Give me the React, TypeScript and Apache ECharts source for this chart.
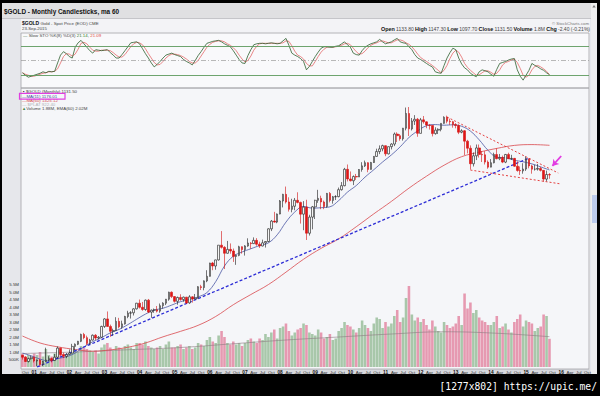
import React, { useEffect, useRef } from 'react';
import * as echarts from 'echarts';

// Monthly candles: [open, high, low, close, volume (millions)]
const gold2000 = [[277,278,268,273,0.9],[273,275,263,264,0.7],[264,272,262,270,0.8],[270,276,268,273,0.6]];
const gold2001 = [[273,274,262,265,0.9],[265,268,255,267,0.8],[267,269,256,258,1.0],[258,265,255,264,0.7],[264,294,263,267,1.2],[267,275,265,270,0.8],[270,272,262,266,0.7],[266,280,265,273,0.9],[273,297,270,293,1.1],[293,294,276,279,0.9],[279,283,271,275,0.7],[275,282,271,279,0.8]];
const gold2002 = [[279,290,278,282,0.9],[282,303,281,297,1.2],[297,304,288,302,1.1],[302,310,300,309,1.0],[309,328,307,326,1.4],[326,330,314,318,1.3],[318,323,300,304,1.2],[304,315,301,312,1.1],[312,326,311,324,1.0],[324,327,312,317,1.1],[317,322,314,319,0.9],[319,349,317,347,1.3]];
const gold2003 = [[347,370,343,368,1.5],[368,390,346,347,1.6],[347,352,320,334,1.3],[334,341,323,336,1.1],[336,373,335,361,1.4],[361,371,342,346,1.3],[346,363,341,354,1.2],[354,377,352,375,1.4],[375,392,370,385,1.5],[385,391,369,386,1.3],[386,400,378,398,1.2],[398,417,396,416,1.6]];
const gold2004 = [[416,428,399,403,1.6],[403,420,392,396,1.5],[396,428,392,426,1.7],[426,430,385,388,1.4],[388,396,371,394,1.3],[394,399,386,395,1.2],[395,407,387,391,1.3],[391,415,386,408,1.4],[408,419,399,416,1.2],[416,430,410,429,1.5],[429,455,424,453,1.7],[453,456,433,438,1.3]];
const gold2005 = [[438,439,418,422,1.3],[422,438,411,435,1.4],[435,446,424,428,1.5],[428,438,421,436,1.2],[436,437,414,417,1.3],[417,443,414,437,1.4],[437,439,418,430,1.2],[430,447,428,433,1.3],[433,475,431,473,1.6],[473,480,461,470,1.5],[470,497,460,495,1.4],[495,538,490,513,1.8]];
const gold2006 = [[513,570,512,569,2.0],[569,574,538,556,1.7],[556,584,540,583,1.6],[583,654,580,654,2.1],[654,730,637,643,2.4],[643,649,543,614,2.0],[614,676,612,633,1.6],[633,663,612,625,1.5],[625,637,574,599,1.7],[599,608,561,604,1.5],[604,651,600,646,1.6],[646,648,612,632,1.4]];
const gold2007 = [[632,654,603,650,1.6],[650,690,646,665,1.8],[665,670,636,662,1.9],[662,695,660,679,1.7],[679,691,651,659,1.6],[659,672,640,650,1.9],[650,683,648,666,1.8],[666,675,642,673,2.2],[673,746,669,743,2.0],[743,796,730,789,2.3],[789,848,779,783,2.5],[783,837,776,834,1.9]];
const gold2008 = [[834,930,832,923,2.6],[923,976,878,972,2.7],[972,1033,905,916,2.9],[916,950,850,865,2.4],[865,939,845,886,2.1],[886,945,859,928,2.3],[928,988,906,913,2.5],[913,918,774,833,2.6],[833,922,735,880,2.9],[880,932,681,718,2.8],[718,829,705,814,2.3],[814,888,740,882,2.2]];
const gold2009 = [[882,932,802,928,2.1],[928,1007,910,942,2.5],[942,962,866,916,2.3],[916,926,866,884,1.9],[884,983,877,979,2.0],[979,990,913,927,2.2],[927,960,904,954,1.8],[954,966,930,955,1.9],[955,1025,950,1008,2.4],[1008,1070,1001,1040,2.6],[1040,1195,1035,1182,3.0],[1182,1227,1075,1096,2.8]];
const gold2010 = [[1096,1162,1075,1081,2.7],[1081,1127,1045,1117,2.5],[1117,1140,1088,1113,2.3],[1113,1184,1113,1180,2.6],[1180,1249,1160,1214,3.1],[1214,1265,1203,1244,2.8],[1244,1249,1155,1181,2.6],[1181,1252,1179,1246,2.4],[1246,1310,1242,1307,2.9],[1307,1388,1303,1357,3.3],[1357,1424,1330,1386,3.2],[1386,1432,1360,1421,2.6]];
const gold2011 = [[1421,1424,1309,1333,3.0],[1333,1412,1327,1410,2.7],[1410,1448,1380,1439,2.9],[1439,1575,1416,1556,3.4],[1556,1577,1462,1536,3.8],[1536,1556,1477,1500,3.0],[1500,1632,1478,1628,3.3],[1628,1913,1601,1826,4.6],[1826,1921,1532,1620,5.4],[1620,1763,1600,1722,3.5],[1722,1803,1670,1746,3.1],[1746,1764,1523,1564,3.3]];
const gold2012 = [[1564,1764,1563,1738,3.0],[1738,1791,1687,1711,3.2],[1711,1718,1628,1669,2.8],[1669,1677,1611,1664,2.5],[1664,1668,1527,1561,3.1],[1561,1640,1548,1604,2.7],[1604,1627,1556,1614,2.4],[1614,1692,1589,1691,2.3],[1691,1787,1686,1773,3.0],[1773,1796,1692,1719,2.8],[1719,1754,1672,1713,2.6],[1713,1723,1635,1675,2.7]];
const gold2013 = [[1675,1694,1627,1663,2.9],[1663,1678,1555,1578,3.4],[1578,1616,1565,1596,2.8],[1596,1604,1321,1472,4.9],[1472,1487,1338,1393,3.9],[1393,1424,1180,1234,4.3],[1234,1348,1208,1313,3.6],[1313,1434,1270,1396,3.8],[1396,1434,1295,1327,3.3],[1327,1362,1251,1323,3.1],[1323,1361,1227,1250,3.0],[1250,1267,1187,1202,2.8]];
const gold2014 = [[1202,1280,1200,1244,2.8],[1244,1345,1238,1326,3.0],[1326,1392,1277,1284,3.4],[1284,1332,1269,1296,2.6],[1296,1315,1240,1250,2.7],[1250,1332,1240,1327,2.9],[1327,1345,1281,1283,2.5],[1283,1323,1273,1287,2.3],[1287,1291,1205,1211,3.0],[1211,1256,1160,1171,3.2],[1171,1208,1131,1167,3.5],[1167,1239,1142,1184,2.7]];
const gold2015 = [[1184,1307,1167,1283,3.1],[1283,1284,1191,1213,3.0],[1213,1224,1142,1183,2.9],[1183,1225,1170,1183,2.4],[1183,1232,1170,1190,2.6],[1190,1206,1162,1172,2.7],[1172,1175,1072,1095,3.5],[1095,1170,1077,1135,3.4],[1133.8,1147.3,1097.7,1131.5,1.88]];

// Slow stochastic [%K, %D] per month
const sto2000 = [[25,25],[20,22],[16,20],[18,18]];
const sto2001 = [[20,18],[22,20],[24,22],[27,24],[25,25],[28,27],[27,27],[28,28],[45,33],[61,45],[68,58],[64,64]];
const sto2002 = [[58,63],[55,59],[77,63],[86,73],[91,85],[84,87],[77,84],[70,77],[65,71],[72,69],[71,69],[70,71]];
const sto2003 = [[71,71],[72,71],[66,70],[61,66],[55,61],[55,57],[62,57],[70,62],[78,70],[86,78],[87,84],[88,87]];
const sto2004 = [[84,86],[74,82],[64,74],[55,64],[45,55],[37,46],[42,41],[48,42],[55,48],[61,55],[63,60],[65,63]];
const sto2005 = [[62,63],[60,62],[58,60],[52,57],[48,53],[45,48],[41,45],[50,45],[60,50],[68,59],[77,68],[85,77]];
const sto2006 = [[87,83],[89,87],[90,89],[91,90],[88,90],[84,88],[81,84],[78,81],[70,76],[61,70],[52,61],[45,53]];
const sto2007 = [[44,47],[60,50],[72,59],[82,71],[84,79],[85,84],[85,85],[84,85],[85,85],[86,85],[85,85],[84,85]];
const sto2008 = [[85,85],[90,86],[95,90],[81,89],[65,80],[61,69],[58,61],[54,58],[48,53],[31,44],[38,39],[48,39]];
const sto2009 = [[58,48],[67,58],[75,67],[78,73],[78,77],[77,78],[77,77],[79,78],[80,79],[84,81],[88,84],[82,85]];
const sto2010 = [[77,82],[65,75],[62,68],[61,63],[70,64],[77,69],[81,76],[84,81],[86,84],[88,86],[93,89],[88,90]];
const sto2011 = [[84,88],[86,86],[88,86],[92,89],[95,92],[88,92],[86,90],[85,86],[78,83],[72,78],[62,71],[55,63]];
const sto2012 = [[52,56],[48,52],[44,48],[40,44],[37,40],[27,35],[25,30],[24,25],[40,30],[55,40],[66,54],[75,65]];
const sto2013 = [[72,71],[55,67],[43,57],[35,44],[31,36],[24,30],[20,25],[17,20],[27,21],[31,25],[29,29],[27,29]];
const sto2014 = [[22,26],[18,22],[32,24],[44,31],[46,41],[48,46],[51,48],[53,51],[54,53],[31,46],[18,34],[10,20]];
const sto2015 = [[20,16],[30,20],[44,31],[40,38],[37,40],[33,37],[30,33],[25,28],[21.14,21.09]];

// Moving averages read at sample months (connected by the line series)
const ma11Points: [string, number][] = [
  ['2000-09',282],['2000-12',276],['2001-03',269],['2001-06',265],['2001-09',270],['2001-12',274],
  ['2002-03',282],['2002-06',296],['2002-09',308],['2002-12',318],['2003-03',330],['2003-06',339],
  ['2003-09',352],['2003-12',367],['2004-03',382],['2004-06',394],['2004-09',400],['2004-12',410],
  ['2005-03',421],['2005-06',428],['2005-09',437],['2005-12',452],['2006-03',492],['2006-06',556],
  ['2006-09',600],['2006-12',620],['2007-03',636],['2007-06',652],['2007-09',666],['2007-12',709],
  ['2008-03',783],['2008-06',847],['2008-09',885],['2008-12',873],['2009-03',876],['2009-06',882],
  ['2009-09',926],['2009-12',989],['2010-03',1041],['2010-06',1112],['2010-09',1178],['2010-12',1251],
  ['2011-03',1322],['2011-06',1408],['2011-09',1514],['2011-12',1595],['2012-03',1660],['2012-06',1675],
  ['2012-09',1667],['2012-12',1672],['2013-03',1653],['2013-06',1592],['2013-09',1487],['2013-12',1371],
  ['2014-03',1299],['2014-06',1293],['2014-09',1269],['2014-12',1253],['2015-03',1233],['2015-06',1204],
  ['2015-09',1176]
];
const ma60Points: [string, number][] = [
  ['2000-09',322],['2001-03',305],['2001-09',296],['2002-03',290],['2002-09',286],['2003-03',289],
  ['2003-09',295],['2004-03',305],['2004-09',320],['2005-03',334],['2005-09',350],['2006-03',375],
  ['2006-09',411],['2007-03',445],['2007-09',481],['2008-03',530],['2008-09',586],['2009-03',638],
  ['2009-09',687],['2010-03',755],['2010-09',835],['2011-03',920],['2011-09',1020],['2012-03',1120],
  ['2012-09',1220],['2013-03',1304],['2013-09',1351],['2014-03',1391],['2014-09',1424],['2015-03',1433],
  ['2015-09',1425]
];
const volEmaPoints: [string, number][] = [
  ['2000-09',0.9],['2002-03',1.0],['2003-09',1.15],['2005-03',1.3],['2006-09',1.55],['2008-03',1.8],
  ['2009-09',2.0],['2011-03',2.2],['2012-09',2.35],['2014-03',2.25],['2015-09',2.02]
];

// Annotation trend lines: [month, price]
const supportLine: [string, number][] = [['2001-02', 253], ['2015-02', 1290]];
const upperWedge: [string, number][] = [['2012-10', 1777], ['2015-12', 1148]];
const lowerWedge: [string, number][] = [['2013-06', 1175], ['2016-01', 1054]];
const arrowLine: [string, number][] = [['2016-01', 1311], ['2015-10', 1213]];

const volTicks = ['500K','1.0M','1.5M','2.0M','2.5M','3.0M','3.5M','4.0M','4.5M','5.0M','5.5M'];
const monthNames: Record<string, string> = { '04': 'Apr', '07': 'Jul', '10': 'Oct' };

const months: string[] = [];
for (let k = 0; k < 194; k++) {
  const t = 2000 * 12 + 8 + k;
  const y = Math.floor(t / 12);
  const m = (t % 12) + 1;
  months.push(`${y}-${m < 10 ? '0' : ''}${m}`);
}

const FONT = 'Liberation Sans, Arial, sans-serif';

function buildOption() {
  const gold = [...gold2000, ...gold2001, ...gold2002, ...gold2003, ...gold2004, ...gold2005, ...gold2006, ...gold2007,
    ...gold2008, ...gold2009, ...gold2010, ...gold2011, ...gold2012, ...gold2013, ...gold2014, ...gold2015];
  const sto = [...sto2000, ...sto2001, ...sto2002, ...sto2003, ...sto2004, ...sto2005, ...sto2006, ...sto2007,
    ...sto2008, ...sto2009, ...sto2010, ...sto2011, ...sto2012, ...sto2013, ...sto2014, ...sto2015];
  const candles = gold.map(([o, h, l, c]) => [o, c, l, h]);
  const volumes = gold.map(([o, , , c, v]) => ({
    value: v * 1e6,
    itemStyle: { color: c >= o ? 'rgba(112,166,112,0.58)' : 'rgba(220,92,128,0.6)' },
  }));
  const idx = (m: string) => months.indexOf(m);
  const pt = (p: [string, number]) => [idx(p[0]), p[1]];
  const seg = (a: [string, number][], style: any) => [
    { coord: pt(a[0]), lineStyle: style, symbol: 'none' },
    { coord: pt(a[1]), symbol: 'none' },
  ];

  const t = (x: number, y: number, text: string, extra: any = {}) => ({
    type: 'text', x, y, z: 10,
    style: { text, fontFamily: FONT, fontSize: 4.6, fill: '#333', verticalAlign: 'middle', align: 'left', ...extra },
  });
  const rs = (size: number, fill: string, weight = 'normal') => ({ fontFamily: FONT, fontSize: size, fill, fontWeight: weight });

  const hiddenAxis = { axisLine: { show: false }, axisTick: { show: false }, splitLine: { show: false }, axisLabel: { show: false } };

  return {
    animation: false,
    backgroundColor: '#000000',
    textStyle: { fontFamily: FONT },
    grid: [
      { left: 21, top: 33, width: 568, height: 55, show: true, borderColor: '#a3a3a8', borderWidth: 0.8, backgroundColor: 'transparent' },
      { left: 21, top: 88, width: 568, height: 281, show: true, borderColor: '#a3a3a8', borderWidth: 0.8, backgroundColor: 'transparent' },
      { left: 21, top: 284.5, width: 568, height: 82.5, show: false },
    ],
    xAxis: [0, 1, 2].map((g) => ({
      type: 'category', gridIndex: g, data: months, boundaryGap: true,
      ...hiddenAxis,
      axisLabel: g === 2 ? {
        show: true, margin: 3.2, fontSize: 4.4, color: '#222', fontFamily: FONT,
        interval: (_i: number, v: string) => ['01', '04', '07', '10'].includes(v.slice(5)),
        formatter: (v: string) => v.slice(5) === '01' ? `{y|${v.slice(2, 4)}}` : `{m|${monthNames[v.slice(5)]}}`,
        rich: {
          y: { fontSize: 4.8, fontWeight: 'bold', color: '#111', fontFamily: FONT },
          m: { fontSize: 4.4, color: '#333', fontFamily: FONT },
        },
      } : { show: false },
    })),
    yAxis: [
      { type: 'value', gridIndex: 0, min: -6, max: 106, ...hiddenAxis },
      { type: 'log', gridIndex: 1, min: 249, max: 2228, logBase: 10, ...hiddenAxis },
      {
        type: 'value', gridIndex: 2, min: 0, max: 5.5e6, interval: 5e5, position: 'left',
        axisLine: { show: false }, axisTick: { show: false }, splitLine: { show: false },
        axisLabel: {
          show: true, margin: 2, fontSize: 4.4, color: '#333', fontFamily: FONT,
          formatter: (v: number) => (v <= 0 ? '' : volTicks[Math.round(v / 5e5) - 1] || ''),
        },
      },
    ],
    series: [
      {
        type: 'line', xAxisIndex: 0, yAxisIndex: 0, data: sto.map((s) => s[0]), symbol: 'none', z: 4,
        lineStyle: { color: '#2f5f2f', width: 0.8 },
        markLine: {
          silent: true, symbol: ['none', 'none'], label: { show: false },
          data: [
            { yAxis: 80, lineStyle: { color: '#5d9a5d', width: 0.9, type: 'solid' } },
            { yAxis: 20, lineStyle: { color: '#5d9a5d', width: 0.9, type: 'solid' } },
            { yAxis: 50, lineStyle: { color: '#8c8c8c', width: 0.6, type: [5, 2, 1, 2] } },
          ],
        },
      },
      {
        type: 'line', xAxisIndex: 0, yAxisIndex: 0, data: sto.map((s) => s[1]), symbol: 'none', z: 3,
        lineStyle: { color: '#e56a6a', width: 0.8 },
      },
      { type: 'bar', xAxisIndex: 2, yAxisIndex: 2, data: volumes, barWidth: '88%', z: 1 },
      {
        type: 'line', xAxisIndex: 2, yAxisIndex: 2, data: volEmaPoints.map(([m, v]) => [idx(m), v * 1e6]),
        symbol: 'none', smooth: 0.4, connectNulls: true, z: 2, lineStyle: { color: '#8d7a82', width: 0.6 },
      },
      {
        type: 'line', xAxisIndex: 1, yAxisIndex: 1, data: ma60Points.map(pt), symbol: 'none', smooth: 0.4, z: 3,
        lineStyle: { color: '#d9474c', width: 0.8 },
      },
      {
        type: 'line', xAxisIndex: 1, yAxisIndex: 1, data: ma11Points.map(pt), symbol: 'none', smooth: 0.4, z: 4,
        lineStyle: { color: '#4a57a3', width: 0.8 },
      },
      {
        type: 'candlestick', xAxisIndex: 1, yAxisIndex: 1, data: candles, barWidth: '72%', z: 5,
        itemStyle: { color: '#f4f4f4', color0: '#e01515', borderColor: '#1c1c1c', borderColor0: '#d41010', borderWidth: 0.6 },
        markLine: {
          silent: true, symbol: ['none', 'none'], label: { show: false }, animation: false,
          data: [
            seg(supportLine, { color: '#2c2cd6', width: 1.3, type: [3, 2] }),
            seg(upperWedge, { color: '#e22b2b', width: 0.9, type: [2, 2] }),
            seg(lowerWedge, { color: '#e22b2b', width: 0.9, type: [2, 2] }),
            [
              { coord: pt(arrowLine[0]), symbol: 'none', lineStyle: { color: '#e23de2', width: 1.8, type: 'solid' } },
              { coord: pt(arrowLine[1]), symbol: 'arrow', symbolSize: 6 },
            ],
          ],
        },
      },
    ],
    graphic: [
      { type: 'rect', z: -5, shape: { x: 2, y: 3, width: 589, height: 371 }, style: { fill: '#e6e7eb' } },
      { type: 'rect', z: -4, shape: { x: 2, y: 3, width: 589, height: 15 }, style: { fill: '#e0e0e2' } },
      { type: 'line', z: -4, shape: { x1: 2, y1: 18.5, x2: 591, y2: 18.5 }, style: { stroke: '#bcbcc0', lineWidth: 0.8 } },
      { type: 'rect', z: -4, shape: { x: 21, y: 19, width: 569, height: 350 }, style: { fill: '#f3f3f6' } },
      { type: 'rect', z: -3, shape: { x: 21, y: 33, width: 568, height: 55 }, style: { fill: '#f9f9fb' } },
      { type: 'rect', z: -3, shape: { x: 21, y: 88, width: 568, height: 281 }, style: { fill: '#f5f6f9' } },
      { type: 'rect', z: -3, shape: { x: 21, y: 369, width: 569, height: 5 }, style: { fill: '#d8d9de' } },
      { type: 'rect', z: -3, shape: { x: 591, y: 3, width: 6, height: 371 }, style: { fill: '#eeeeee' } },
      { type: 'rect', z: -2, shape: { x: 592, y: 195, width: 5, height: 28 }, style: { fill: '#bccbec' } },
      { type: 'polygon', z: -2, shape: { points: [[592.3, 7.5], [594, 5], [595.7, 7.5]] }, style: { fill: '#777' } },

      t(4, 11.5, '$GOLD - Monthly Candlesticks, ma 60', { fontSize: 6.4, fontWeight: 'bold', fill: '#111' }),
      t(22, 23.2, '{b|$GOLD} {n|Gold - Spot Price (EOD) CME}', {
        rich: { b: rs(5, '#111', 'bold'), n: rs(4.4, '#444') },
      }),
      t(22, 28.8, '23-Sep-2015', { fontSize: 4.3, fill: '#444' }),
      t(589, 23, '\u00a9 StockCharts.com', { fontSize: 4.3, fill: '#777', align: 'right' }),
      t(590, 28.8, '{b|Open} {n|1133.80} {b|High} {n|1147.30} {b|Low} {n|1097.70} {b|Close} {n|1131.50} {b|Volume} {n|1.8M} {b|Chg} {n|-2.40 (-0.21%)}', {
        align: 'right', rich: { b: rs(5.4, '#111', 'bold'), n: rs(5, '#444') },
      }),
      t(23, 35.3, '{k|\u2014} {n|Slow STO %K(8) %D(3)} {g|21.14}{n|,} {r|21.09}', {
        rich: { k: rs(4.4, '#2f5f2f'), n: rs(4.4, '#444'), g: rs(4.4, '#2f7a2f'), r: rs(4.4, '#e04444') },
      }),
      t(23, 91.8, '{c|\u25aa} {n|$GOLD (Monthly) 1131.50}', { rich: { c: rs(4.6, '#333'), n: rs(4.4, '#444') } }),
      t(22, 96.2, '\u2014MA(11) 1176.01', { fontSize: 4.4, fill: '#3d4a98' }),
      t(22, 100.3, '\u2014MA(60) 1425.12', { fontSize: 4.4, fill: '#d9474c' }),
      t(22, 104.3, '\u2014 $PLAT 922.40', { fontSize: 4.4, fill: '#b3b3b8' }),
      t(22, 108.4, '{v|\u25b2}{n|Volume 1.88M, EMA(60) 2.02M}', { rich: { v: rs(4.2, '#4a8a4a'), n: rs(4.4, '#444') } }),
      { type: 'rect', z: 11, shape: { x: 19.5, y: 93.3, width: 45.5, height: 5.8 }, style: { fill: 'none', stroke: '#e03fe0', lineWidth: 1.2 } },

      t(597, 386.5, '[1277x802] https://upic.me/', { fontFamily: 'DejaVu Sans Mono, monospace', fontSize: 9.7, fill: '#ffffff', align: 'right' }),
    ],
  };
}

export default function App() {
  const ref = useRef<HTMLDivElement>(null);
  useEffect(() => {
    if (!ref.current) return;
    const chart = echarts.init(ref.current, null, { renderer: 'svg' });
    chart.setOption(buildOption() as any);
    return () => chart.dispose();
  }, []);
  return <div ref={ref} style={{ position: 'fixed', left: 0, top: 0, width: 600, height: 396 }} />;
}
